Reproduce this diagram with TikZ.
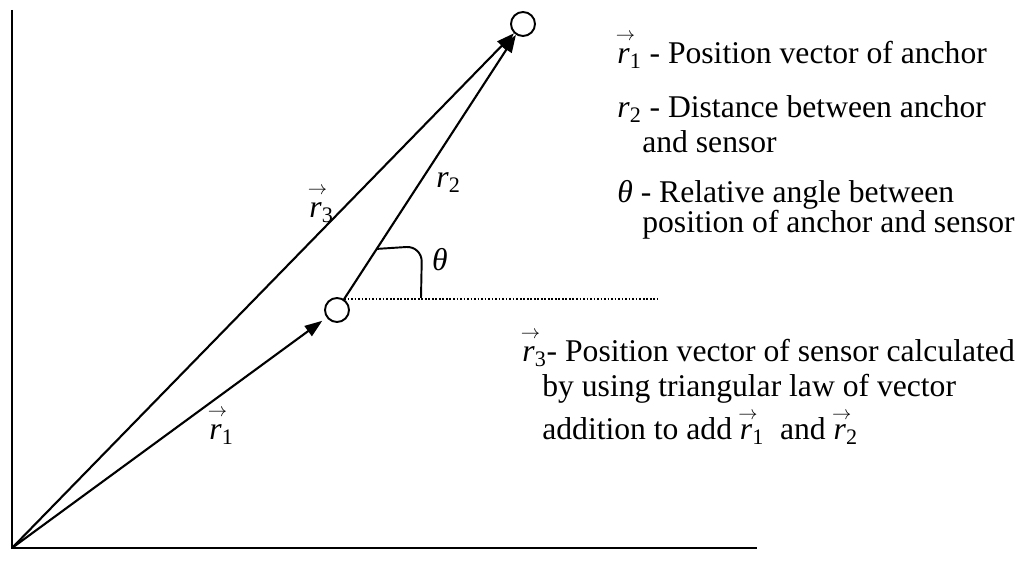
\documentclass[tikz,border=0pt]{standalone}
\usepackage{fontspec}
\setmainfont{Liberation Serif}
\usetikzlibrary{arrows.meta, positioning}
\newcommand{\vecr}[2][0.74em]{\makebox[0pt][l]{\hspace{-0.05em}\smash{\raisebox{#1}{\fontsize{11}{11}\selectfont$\rightarrow$}}}\textit{r}\textsubscript{#2}}
\newcommand{\plainr}[1]{\textit{r}\textsubscript{#1}}

\begin{document}
\begin{tikzpicture}[x=0.02cm, y=-0.02cm,
  axis/.style={line width=1.7pt, line join=miter},
  vec/.style={-{Triangle[length=10pt, width=7pt]}, line width=1.2pt},
  pt/.style={circle, draw, line width=1.1pt, minimum size=0.48cm, inner sep=0pt},
  sym/.style={font=\fontsize{18}{21}\selectfont, inner sep=0pt},
  legend/.style={font=\fontsize{18}{21}\selectfont, inner sep=0pt, anchor=base west}
]
\useasboundingbox (0,0) rectangle (1022,563);
% === Axes ===
\coordinate (origin) at (12,548);
\coordinate (ytop) at (12,10);
\coordinate (xend) at (757,548);
\draw[axis] (ytop) -- (origin) -- (xend);
% === Anchor and sensor ===
\node[pt] (anchor) at (523,24) {};
\node[pt] (sensor) at (337,310) {};
% === Vectors ===
\draw[vec, shorten >=3pt] (origin) -- (sensor);
\draw[vec] (origin) -- (anchor);
\draw[vec] (sensor) -- coordinate[pos=0] (base) coordinate[pos=0.19] (arcstart) (anchor);
% === Angle theta ===
\coordinate (dotend) at (658,298);
\coordinate (arcend) at (421,298);
\draw[line width=0.9pt, dash pattern=on 1pt off 1pt] (base) -- (base -| dotend);
\draw[line width=1.1pt, rounded corners=9pt] (arcstart) -- (422,246) -- (arcend);
% === Labels on the drawing ===
\node[sym, anchor=base west] (r3lbl) at (309,218) {\vecr{3}};
\node[sym, anchor=base west] (r2lbl) at (436,188) {\plainr{2}};
\node[sym] (thlbl) at (440,260) {\textit{θ}};
\node[sym, anchor=base west] (r1lbl) at (209,440) {\vecr{1}};
% === Legend ===
\node[legend] (leg1) at (617,64) {\vecr{1} - Position vector of anchor};
\node[legend] (leg2) at (617,118) {\plainr{2} - Distance between anchor};
\node[legend] (leg2b) at (642,153) {and sensor};
\node[legend] (leg3) at (617,203) {\textit{θ} - Relative angle between};
\node[legend] (leg3b) at (642,233) {position of anchor and sensor};
\node[legend] (leg4) at (522,362) {\vecr{3}- Position vector of sensor calculated};
\node[legend] (leg4b) at (542,397) {by using triangular law of vector};
\node[legend] (leg4c) at (542,440) {addition to add\ \vecr[0.65em]{1}\ \ and\ \vecr[0.65em]{2}};
\end{tikzpicture}
\end{document}
